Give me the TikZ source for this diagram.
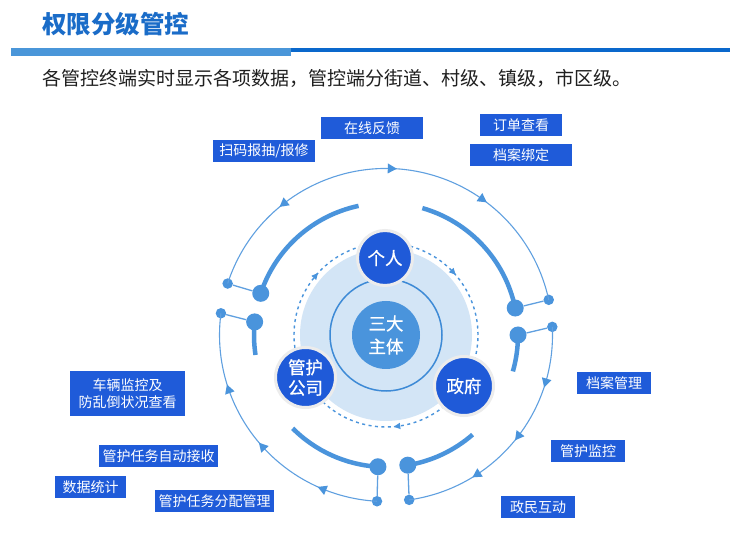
\documentclass[tikz,border=0pt]{standalone}
\usepackage{fontspec}
\setmainfont{Noto Sans CJK SC}
\newfontfamily\medfont{Noto Sans CJK SC}[FakeBold=0.6]
\definecolor{titleblue}{RGB}{26,108,200}
\definecolor{barlight}{RGB}{74,150,217}
\definecolor{bardark}{RGB}{10,104,204}
\definecolor{boxblue}{RGB}{31,91,217}
\definecolor{nodeblue}{RGB}{31,90,216}
\definecolor{midblue}{RGB}{74,148,220}
\definecolor{thinblue}{RGB}{96,160,224}
\definecolor{diskblue}{RGB}{211,229,246}
\definecolor{ringblue}{RGB}{61,138,214}
\definecolor{nodeborder}{RGB}{236,236,236}
\tikzset{
  lbl/.style={fill=boxblue, text=white, font=\fontsize{14}{17.5}\selectfont, inner sep=0pt, minimum height=22pt, align=center},
  ent/.style={circle, fill=nodeblue, draw=nodeborder, line width=3pt, text=white, font=\medfont\fontsize{17.5}{20.5}\selectfont, inner sep=0pt, align=center},
  thickarc/.style={midblue, line width=4.5pt},
  thinarc/.style={thinblue, line width=1.1pt},
  bigdot/.style={circle, fill=midblue, inner sep=0pt, minimum size=17pt},
  smalldot/.style={circle, fill=midblue, inner sep=0pt, minimum size=10.5pt},
  link/.style={thinblue, line width=1.3pt},
  tipfill/.style={fill=midblue},
}
\begin{document}
\begin{tikzpicture}[x=1pt,y=1pt]
\useasboundingbox (0,0) rectangle (750,552);
\fill[white] (0,0) rectangle (750,552);
% header
\node[anchor=west, text=titleblue, font=\fontsize{24.5}{28}\selectfont\bfseries, inner sep=0pt] (title) at (42,528) {权限分级管控};
\fill[barlight] (10.5,496.3) rectangle (291,503.7);
\fill[bardark] (291,500.3) rectangle (730,503.7);
\node[anchor=west, text=black!88, font=\fontsize{19}{22}\selectfont, inner sep=0pt] (sub) at (42.5,474) {各管控终端实时显示各项数据，管控端分街道、村级、镇级，市区级。};

\begin{scope}[shift={(386,217)}]
% outer small dots
\node[smalldot] (s1) at (162:166.5) {};
\node[smalldot] (s2) at (172.5:166.5) {};
\node[smalldot] (s3) at (12.2:166.5) {};
\node[smalldot] (s4) at (2.8:166.5) {};
\node[smalldot] (s5) at (266.9:166.5) {};
\node[smalldot] (s6) at (-82:166.5) {};
% thin outer arcs
\draw[thinarc] (162:166.5) arc[start angle=162, end angle=12.2, radius=166.5];
\draw[thinarc] (172.5:166.5) arc[start angle=172.5, end angle=266.9, radius=166.5];
\draw[thinarc] (2.8:166.5) arc[start angle=2.8, end angle=-82, radius=166.5];
% arrow marks on thin arcs
\foreach \a/\d in {128/90, 88/-90, 54.5/-90, 199/-90, 222/-90, 247.5/-90, -16.6/-90, -37.5/-90, -57/-90}
  \fill[tipfill, rotate=\a, shift={(166.5,0)}, rotate=\d] (5,0) -- (-4,5) -- (-4,-5) -- cycle;
% thick arcs
\draw[thickarc] (161.6:132) arc[start angle=161.6, end angle=102, radius=132];
\draw[thickarc] (74:132) arc[start angle=74, end angle=11.8, radius=132];
\draw[thickarc] (174.3:132) arc[start angle=174.3, end angle=188.7, radius=132];
\draw[thickarc] (0:132) arc[start angle=0, end angle=-16, radius=132];
\draw[thickarc] (-80.5:132) arc[start angle=-80.5, end angle=-49, radius=132];
\draw[thickarc] (-93.5:132) arc[start angle=-93.5, end angle=-135, radius=132];
% big dots
\node[bigdot] (b1) at (161.6:132) {};
\node[bigdot] (b2) at (174.3:132) {};
\node[bigdot] (b3) at (11.8:132) {};
\node[bigdot] (b4) at (0:132) {};
\node[bigdot] (b5) at (-93.5:132) {};
\node[bigdot] (b6) at (-80.5:132) {};
% links
\draw[link] (s1) -- (b1);
\draw[link] (s2) -- (b2);
\draw[link] (s3) -- (b3);
\draw[link] (s4) -- (b4);
\draw[link] (s5) -- (b5);
\draw[link] (s6) -- (b6);
% inner system
\fill[diskblue] (0,0) circle[radius=86];
\draw[ringblue, line width=1.5pt] (0,0) circle[radius=56];
\draw[midblue, line width=1.4pt, dash pattern=on 3pt off 3.5pt] (0,0) circle[radius=92];
\foreach \a in {139.8, 43, -83}
  \fill[tipfill, rotate=\a, shift={(92,0)}, rotate=-90] (3.5,0) -- (-3,3.2) -- (-3,-3.2) -- cycle;
\node[circle, fill=midblue, minimum size=68pt, inner sep=0pt, text=white, font=\medfont\fontsize{17.5}{23}\selectfont, align=center] (core) at (0,0) {三大\\主体};
\node[ent, minimum size=55pt] (person) at (-1,77) {个人};
\node[ent, minimum size=60pt] (company) at (-80.5,-42.5) {管护\\公司};
\node[ent, minimum size=59pt] (gov) at (78,-51) {政府};
\end{scope}

% labels
\node[lbl, minimum width=102pt] (l1) at (372,423.5) {在线反馈};
\node[lbl, minimum width=102pt] (l2) at (264,401) {扫码报抽/报修};
\node[lbl, minimum width=82pt] (l3) at (521,427) {订单查看};
\node[lbl, minimum width=102pt] (l4) at (521,397) {档案绑定};
\node[lbl, minimum width=115pt, minimum height=45pt] (l5) at (127.5,158.5) {车辆监控及\\防乱倒状况查看};
\node[lbl, minimum width=119pt] (l6) at (158.5,96) {管护任务自动接收};
\node[lbl, minimum width=71pt] (l7) at (90.5,65) {数据统计};
\node[lbl, minimum width=119pt] (l8) at (214.5,51) {管护任务分配管理};
\node[lbl, minimum width=74pt] (l9) at (614,169) {档案管理};
\node[lbl, minimum width=74pt] (l10) at (588,101) {管护监控};
\node[lbl, minimum width=74pt] (l11) at (538,45) {政民互动};
\end{tikzpicture}
\end{document}
